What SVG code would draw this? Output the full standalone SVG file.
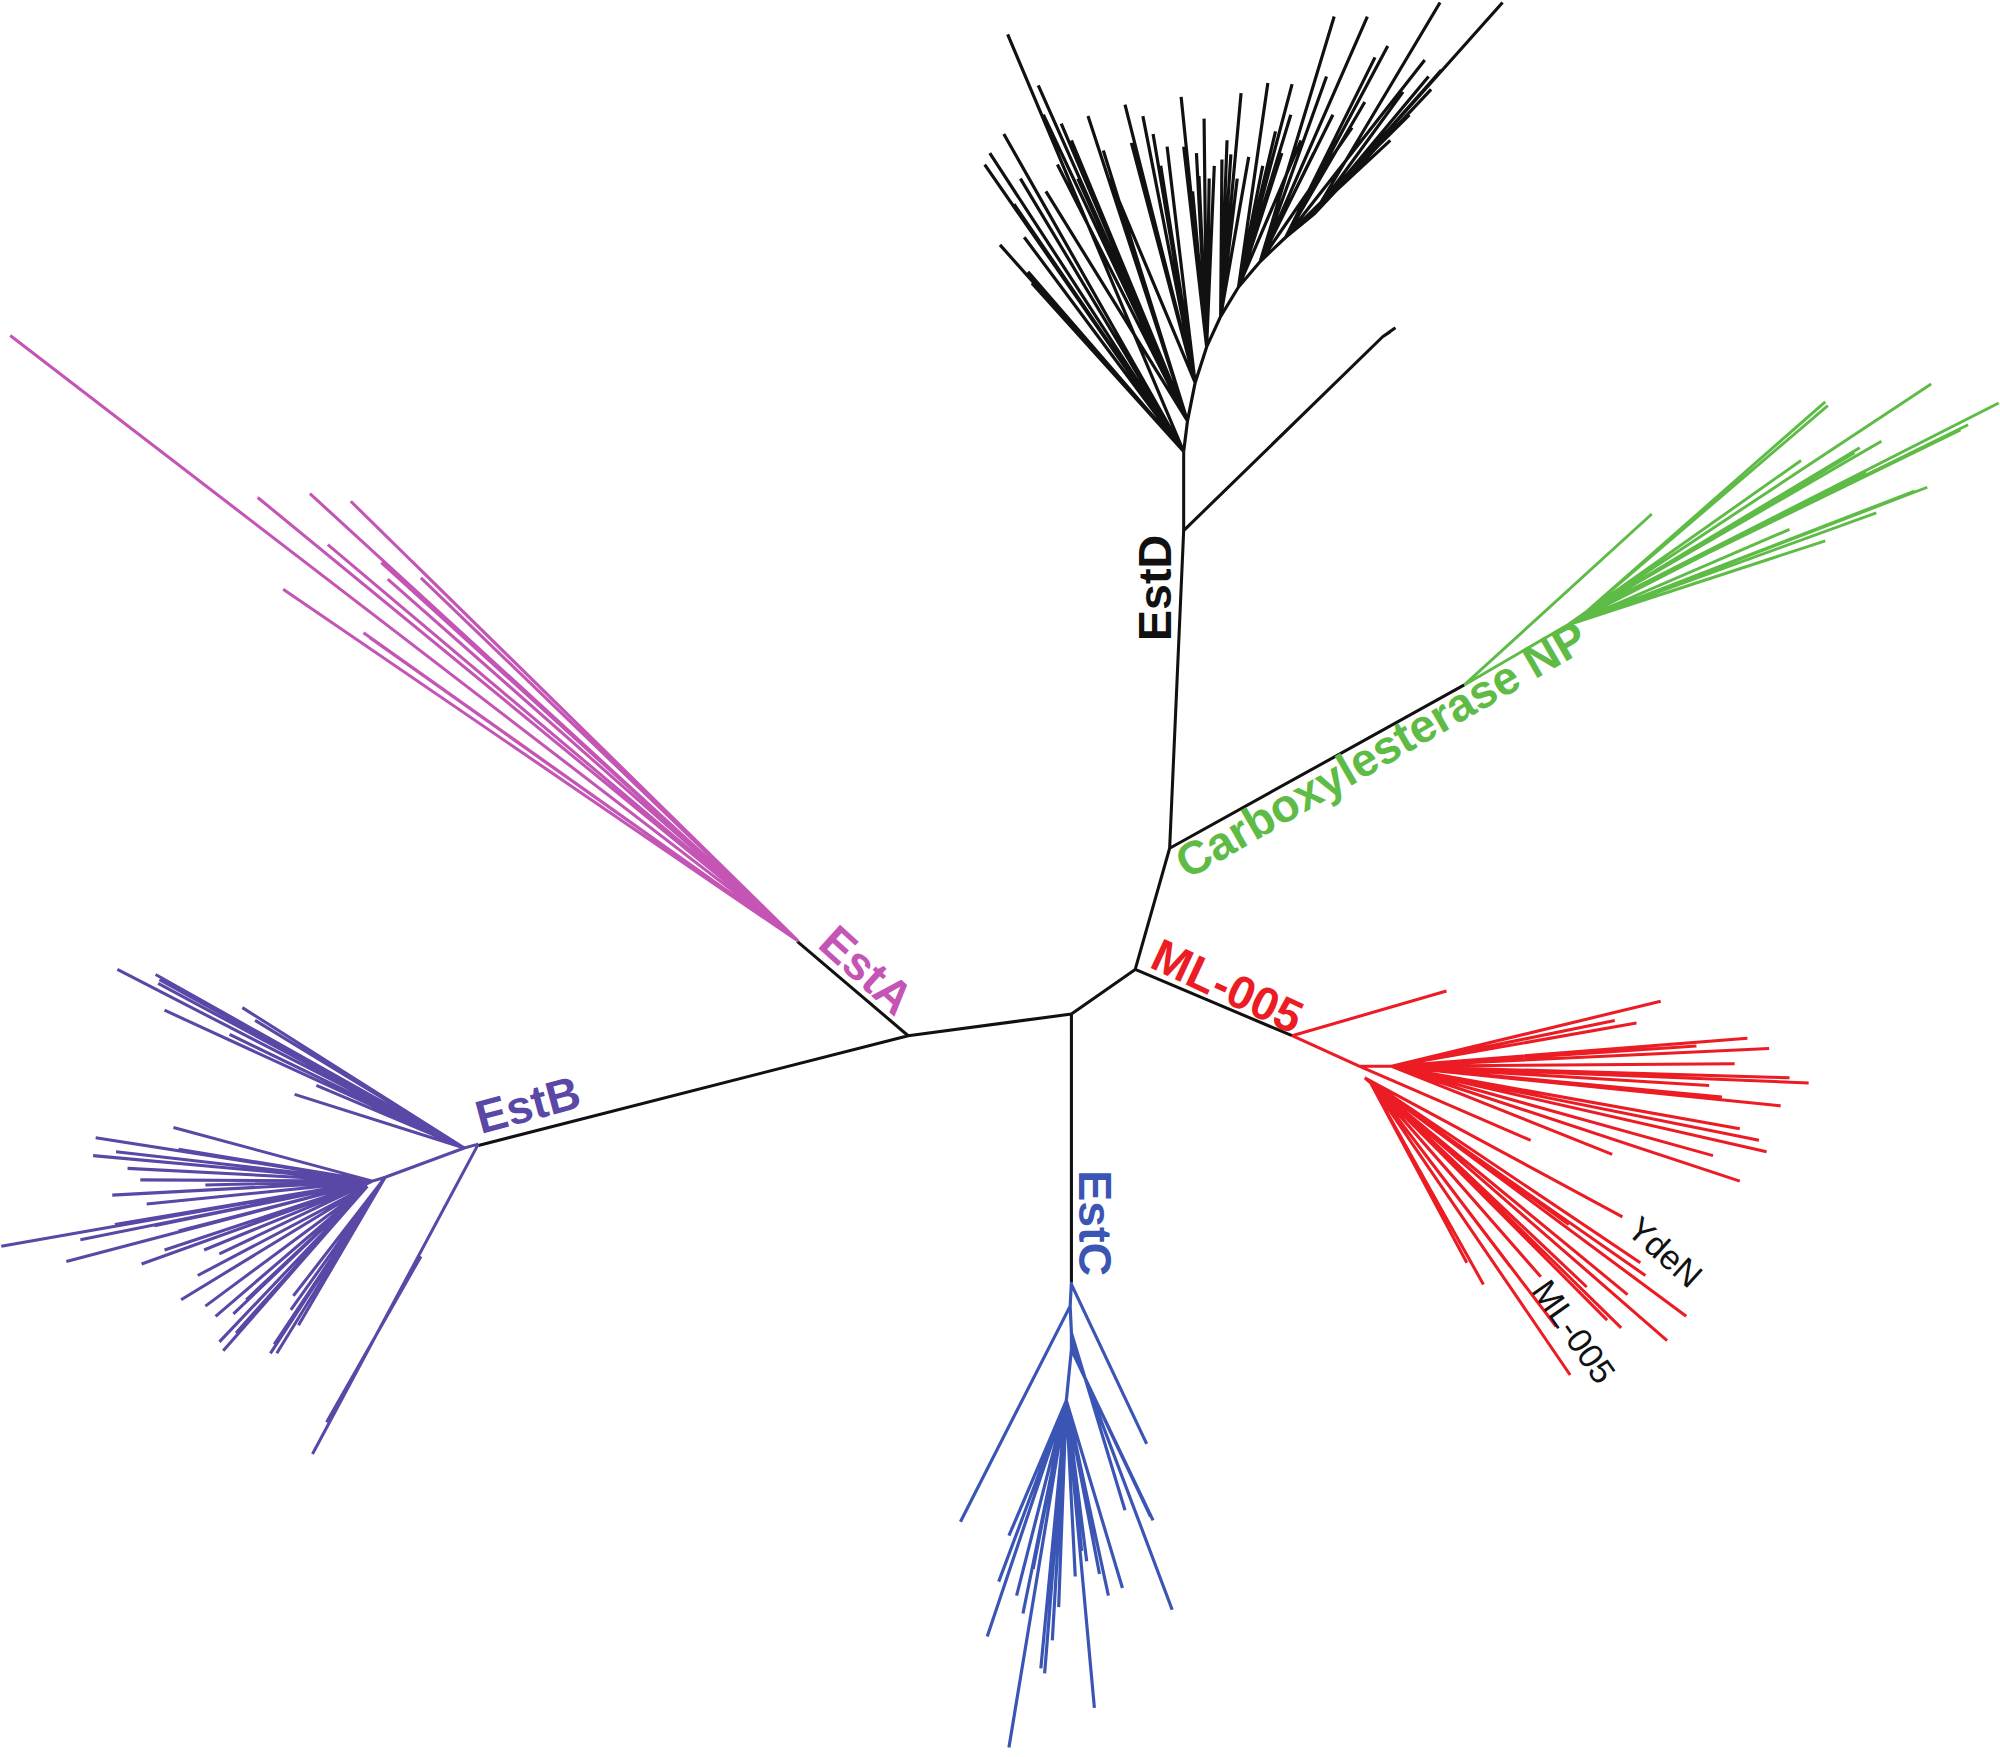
<svg xmlns="http://www.w3.org/2000/svg" width="2000" height="1757" viewBox="0 0 2000 1757">
<style>
.br{fill:none;stroke-linecap:butt;stroke-linejoin:round}
.bk{stroke:#111;stroke-width:2.4}
.tipk{stroke:#111;stroke-width:2.5}
.g{stroke:#5DBB46;stroke-width:2.3}
.m{stroke:#C455B5;stroke-width:2.4}
.p{stroke:#5A47A6;stroke-width:2.4}
.b{stroke:#3A55B4;stroke-width:2.5}
.r{stroke:#EC1C24;stroke-width:2.4}
.lab{font-family:"Liberation Sans",Arial,sans-serif;font-weight:bold;font-size:36.5px}
.leaf{font-family:"Liberation Sans",Arial,sans-serif;font-size:27px;fill:#111}
</style>
<rect width="2000" height="1757" fill="#fff"/>
<g transform="scale(1.27551)">
<g id="connectors">
<path class="br bk" d="M928 354 L928 416 L917 665 M917 665 L1148 537 M917 665 L890 760 M890 760 L1013 812 M890 760 L840 795 M840 795 L840 1005 M840 795 L712 812 M712 812 L625 738 M712 812 L375 898 M928 416 L1084 264 L1094 257 M1084 264 L1090 260"/>
</g>
<g id="clade-EstD">
<path class="br tipk" d="M928 354 L931 330 L937 300 L946 272 L957 248 L971 225 L988 205 L1008 186 L1030 168
M928 354 L790 27 M928 354 L784 192 M928 354 L803 186 M928 354 L806 213 M928 354 L809 222 M928 354 L776 120 M928 354 L772 129 M928 354 L787 105 M928 354 L800 140 M928 354 L795 160
M931 330 L814 67 M931 330 L832 97 M931 330 L829 129 M931 330 L853 91 M931 330 L865 118 M931 330 L840 110 M931 330 L820 150 M931 330 L845 140 M931 330 L818 90
M937 300 L882 82 M937 300 L887 112 M937 300 L896 91 M937 300 L904 105 M937 300 L870 140 M937 300 L910 130 M937 300 L892 130 M937 300 L915 115
M946 272 L926 76 M946 272 L928 115 M946 272 L940 138 M946 272 L944 93 M946 272 L935 150 M946 272 L948 140 M946 272 L952 130 M946 272 L938 120
M957 248 L965 121 M957 248 L979 123 M957 248 L973 73 M957 248 L958 125 M957 248 L970 140 M957 248 L962 110
M971 225 L994 65 M971 225 L1000 103 M971 225 L1013 66 M971 225 L1012 90 M971 225 L990 130 M971 225 L1020 110 M971 225 L1005 120
M988 205 L1046 13 M988 205 L1045 90 M988 205 L1072 13 M988 205 L1030 120 M988 205 L1060 100 M988 205 L1040 60
M1008 186 L1078 45 M1008 186 L1088 36 M1008 186 L1105 90 M1008 186 L1117 47 M1008 186 L1090 110 M1008 186 L1070 80
M1030 168 L1129 2 M1030 168 L1130 55 M1030 168 L1178 2 M1030 168 L1120 60 M1030 168 L1100 72 M1030 168 L1122 70"/>
<text class="lab" fill="#111" text-anchor="middle" transform="translate(918,461) rotate(-90)">EstD</text>
</g>
<g id="clade-CarboxylesteraseNP">
<path class="br g" d="M1148 537 L1295 403 M1148 537 L1229 490 L1431 424 M1229 490 L1403 415 M1229 490 L1471 402 M1229 490 L1501 385 M1229 490 L1511 382 M1229 490 L1463 370 M1229 490 L1412 361 M1242 481 L1454 355 M1242 481 L1458 351 M1242 481 L1475 346 M1242 481 L1537 337 M1242 481 L1543 333 M1242 481 L1567 316 M1229 490 L1242 481 L1514 301 M1242 481 L1431 315 M1242 481 L1433 318"/>
<text class="lab" fill="#5DBB46" transform="translate(931,690) rotate(-30)">Carboxylesterase NP</text>
</g>
<g id="clade-EstA">
<path class="br m" d="M626 738 L8 263 M626 738 L202 390 M626 738 L243 387 M626 738 L275 393 M626 738 L257 427 M626 738 L222 462 M626 738 L285 496 M626 738 L304 454 M626 738 L299 441 M626 738 L323 440 M626 738 L330 453 M626 738 L290 500"/>
<text class="lab" fill="#C455B5" transform="translate(640,742) rotate(42)">EstA</text>
</g>
<g id="clade-EstB">
<path class="br p" d="M375 897 L364 900 M375 897 L245 1140 M330 985 L256 1115
M364 900 L92 760 M364 900 L122 764 M364 900 L124 771 M364 900 L125 768 M364 900 L138 773 M364 900 L129 792 M364 900 L190 790 M364 900 L180 811 M364 900 L231 858 M364 900 L248 851 M364 900 L150 780 M364 900 L200 800
M364 900 L302 923 L292 926
M292 926 L136 884 M292 926 L75 892 M292 926 L73 906 M292 926 L91 903 M292 926 L100 916 M292 926 L140 901 M292 926 L88 937 M292 926 L161 929 M292 926 L115 944 M292 926 L1 977 M292 926 L52 989 M292 926 L63 972 M292 926 L111 991 M292 926 L121 961 M292 926 L129 980 M292 926 L160 980 M292 926 L172 983 M292 926 L110 925 M292 926 L150 950 M292 926 L90 960 M292 926 L140 965
M288 930 L142 1019 M288 930 L161 1024 M288 930 L169 1032 M288 930 L172 1052 M288 930 L175 1059 M288 930 L183 1030 M288 930 L193 1019 M288 930 L155 1000 M288 930 L185 1045
M302 923 L212 1061 M302 923 L217 1061 M302 923 L228 1027 M302 923 L230 1016 M302 923 L234 1039 M302 923 L215 1054 M302 923 L222 1045"/>
<text class="lab" fill="#5A47A6" transform="translate(377,889) rotate(-15)">EstB</text>
</g>
<g id="clade-EstC">
<path class="br b" d="M840 1005 L839 1024 L840 1045 L840 1058 L836 1098
M840 1007 L899 1132 M839 1024 L753 1193 M840 1045 L882 1184 M840 1058 L904 1192 M840 1058 L902 1189 M840 1052 L919 1262
M836 1098 L791 1204 M836 1098 L783 1240 M836 1098 L774 1283 M836 1098 L797 1251 M836 1098 L802 1265 M836 1098 L791 1370 M836 1098 L819 1312 M836 1098 L816 1308 M836 1098 L825 1286 M836 1098 L843 1236 M836 1098 L858 1339 M836 1098 L869 1251 M836 1098 L880 1245 M836 1098 L852 1224 M836 1098 L862 1234 M836 1098 L848 1216 M836 1098 L810 1230 M836 1098 L830 1260"/>
<text class="lab" fill="#3A55B4" text-anchor="middle" transform="translate(846,959) rotate(90)">EstC</text>
</g>
<g id="clade-ML-005">
<path class="br r" d="M1013 812 L1134 777 M1013 812 L1066 836 L1091 836
M1091 836 L1302 785 M1091 836 L1266 800 M1091 836 L1283 802 M1091 836 L1370 814 M1091 836 L1387 822 M1091 836 L1360 834 M1091 836 L1418 849 M1091 836 L1403 845 M1091 836 L1340 851 M1091 836 L1396 867 M1091 836 L1364 885 M1091 836 L1379 894 M1091 836 L1385 903 M1091 836 L1343 906 M1091 836 L1364 926 M1091 836 L1264 905 M1091 836 L1330 820 M1091 836 L1350 860
M1066 836 L1200 894
M1070 845 L1272 954 M1070 845 L1286 990 M1070 845 L1322 1032 M1070 845 L1307 1051 M1070 845 L1230 960
M1078 852 L1271 1041 M1078 852 L1260 1035 M1078 852 L1276 1015 M1078 852 L1244 1009 M1078 852 L1290 1000
M1074 848 L1231 1078 M1074 848 L1208 1001 M1074 848 L1184 993 M1074 848 L1163 1007 M1074 848 L1150 990 M1074 848 L1220 1040"/>
<text class="lab" fill="#EC1C24" transform="translate(900,758) rotate(25)">ML-005</text>
<text class="leaf" transform="translate(1274,966) rotate(42)">YdeN</text>
<text class="leaf" transform="translate(1200,1012) rotate(55)">ML-005</text>
</g>
</g>
</svg>
